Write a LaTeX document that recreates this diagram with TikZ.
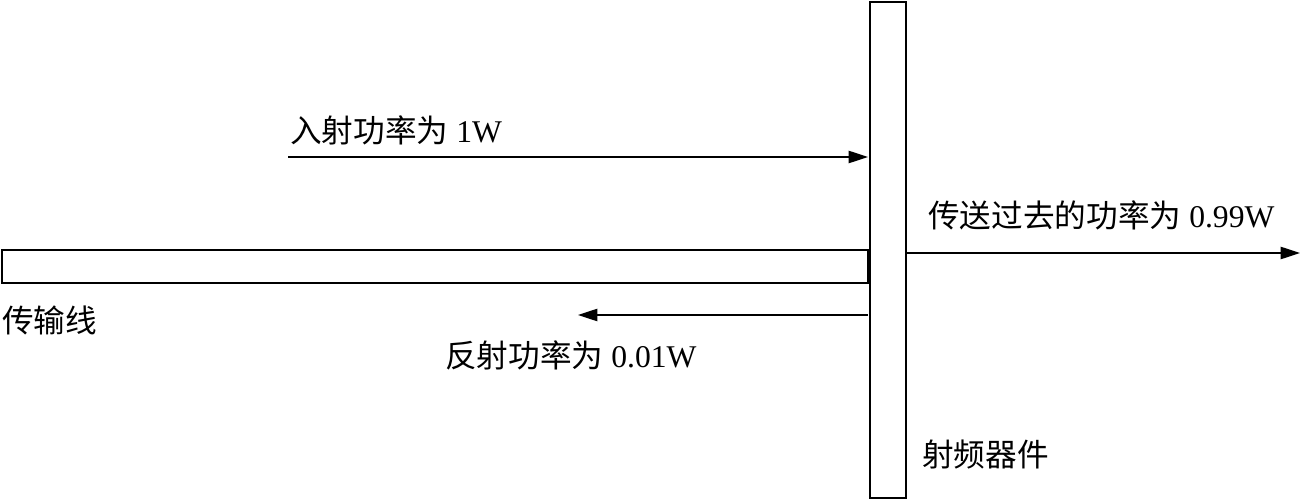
\documentclass[tikz,border=0pt]{standalone}
\usepackage{fontspec}
\setmainfont{Liberation Serif}
\newfontfamily\cjk{Noto Sans CJK SC}
\usetikzlibrary{arrows.meta, positioning}
\begin{document}
\begin{tikzpicture}[x=0.02cm, y=-0.02cm, >={Triangle[length=11pt, width=7pt]}]
    \tikzstyle{label} = [font=\fontsize{18}{21}\selectfont, inner sep=0pt]
    \tikzstyle{body} = [draw, line width=1.6pt]

    \useasboundingbox (0,0) rectangle (1303,500);

    % transmission line and device
    \draw[body] (2,250) rectangle (868,283);
    \draw[body] (870,2) rectangle (906,498);

    \coordinate (inS) at (288,157);
    \coordinate (inE) at (868,157);
    \coordinate (outS) at (906,253);
    \coordinate (outE) at (1300,253);
    \coordinate (refS) at (868,315);
    \coordinate (refE) at (578,315);

    \draw[->, thick] (inS) -- (inE);
    \draw[->, thick] (outS) -- (outE);
    \draw[->, thick] (refS) -- (refE);

    \node[label, anchor=west] (inL) at (290,130) {{\cjk 入射功率为} 1W};
    \node[label, anchor=west] (outL) at (928,215) {{\cjk 传送过去的功率为} 0.99W};
    \node[label, anchor=west] (refL) at (445,355) {{\cjk 反射功率为} 0.01W};
    \node[label, anchor=west] (lineL) at (2,320) {\cjk 传输线};
    \node[label, anchor=west] (devL) at (922,455) {\cjk 射频器件};
\end{tikzpicture}
\end{document}
